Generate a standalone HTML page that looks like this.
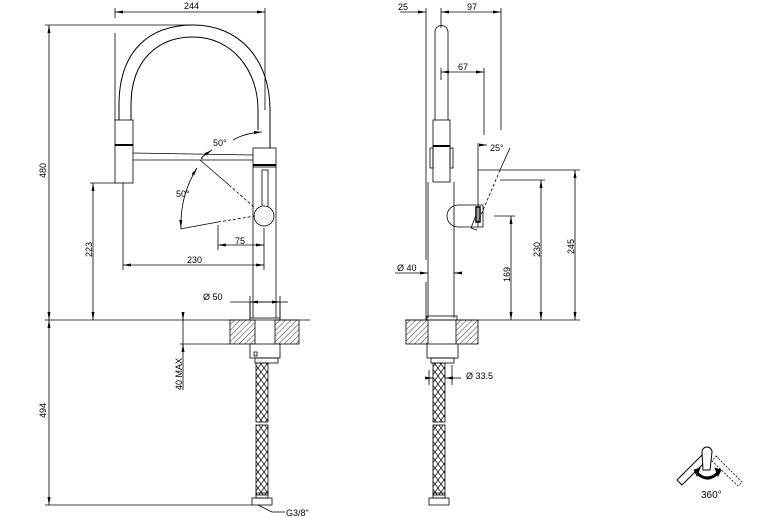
<!DOCTYPE html>
<html><head><meta charset="utf-8"><style>
html,body{margin:0;padding:0;background:#fff;}
svg{display:block;}
text{font-family:"Liberation Sans",sans-serif;font-size:9px;fill:#000;}
</style></head><body>
<svg width="764" height="518" viewBox="0 0 764 518" xmlns="http://www.w3.org/2000/svg">
<defs>
<pattern id="h" width="4" height="4" patternUnits="userSpaceOnUse" patternTransform="rotate(45)"><line x1="0" y1="0" x2="0" y2="4" stroke="#000" stroke-width="0.8"/></pattern>
<pattern id="x" width="6" height="8" patternUnits="userSpaceOnUse"><path d="M0 0L6 8M6 0L0 8" stroke="#000" stroke-width="0.7"/></pattern>
<marker id="a" markerWidth="8" markerHeight="6" refX="8" refY="3" orient="auto-start-reverse" markerUnits="userSpaceOnUse"><path d="M0 1.5L8 3L0 4.5z" fill="#000"/></marker>
</defs>
<g fill="none" stroke="#000" stroke-width="0.8">
<!-- LEFT VIEW dims -->
<line x1="115" y1="12" x2="265" y2="12" marker-start="url(#a)" marker-end="url(#a)"/>
<line x1="115" y1="8" x2="115" y2="18"/><line x1="115" y1="33" x2="115" y2="120"/>
<line x1="265" y1="8" x2="265" y2="110"/>
<line x1="45" y1="25" x2="195" y2="25"/>
<line x1="49" y1="25" x2="49" y2="320" marker-start="url(#a)" marker-end="url(#a)"/>
<line x1="49" y1="320" x2="49" y2="505" marker-start="url(#a)" marker-end="url(#a)"/>
<line x1="45" y1="505" x2="252" y2="505"/>
<line x1="45" y1="320" x2="232" y2="320"/>
<line x1="90" y1="183" x2="116" y2="183"/>
<line x1="93" y1="183" x2="93" y2="320" marker-start="url(#a)" marker-end="url(#a)"/>
<line x1="123" y1="183" x2="123" y2="270"/>
<line x1="123" y1="265" x2="264" y2="265" marker-start="url(#a)" marker-end="url(#a)"/>
<line x1="218" y1="225" x2="218" y2="250"/>
<line x1="218" y1="245" x2="264" y2="245" marker-start="url(#a)" marker-end="url(#a)"/>
<line x1="264" y1="228" x2="264" y2="270"/>
<line x1="230" y1="302" x2="250" y2="302"/><line x1="250" y1="302" x2="280" y2="302" marker-start="url(#a)" marker-end="url(#a)"/><line x1="280" y1="302" x2="288" y2="302"/>
<line x1="250" y1="296" x2="250" y2="320"/><line x1="280" y1="296" x2="280" y2="320"/>
<line x1="183" y1="315" x2="183" y2="390"/>
<line x1="183" y1="315" x2="183" y2="320" marker-end="url(#a)"/>
<line x1="183" y1="352" x2="183" y2="344" marker-end="url(#a)"/>
<line x1="180" y1="344" x2="230" y2="344"/>
<!-- arc spout -->
<path d="M119 120 L119 105 C119 50 150 25 193 25 C240 25 270 60 270 110 L270 148" stroke-width="1"/>
<path d="M131 120 L131 105 C131 60 158 37 193 37 C232 37 258 70 258 110 L258 130" stroke-width="1"/>
<rect x="115" y="120" width="18" height="63" fill="#fff"/>
<line x1="115" y1="145" x2="133" y2="145" stroke-width="2"/>
<line x1="133" y1="153" x2="253" y2="155"/><line x1="133" y1="160" x2="253" y2="160"/>
<rect x="253" y="148" width="23" height="19" fill="#fff"/>
<line x1="253" y1="165" x2="276" y2="165" stroke-width="2"/>
<line x1="253" y1="167" x2="253" y2="318"/><line x1="276" y1="167" x2="276" y2="318"/>
<rect x="250" y="302" width="30" height="16"/>
<rect x="262" y="170" width="6" height="44"/>
<circle cx="264" cy="216" r="10" fill="#fff"/>
<line x1="200" y1="160" x2="229" y2="185"/><line x1="229" y1="185" x2="255" y2="208" stroke-dasharray="3,2"/>
<line x1="180" y1="229" x2="218" y2="222"/><line x1="218" y1="222" x2="255" y2="216" stroke-dasharray="3,2"/>
<path d="M233 140 Q245 133 262 132" marker-end="url(#a)"/>
<path d="M212 150 Q197 160 203 158" marker-start="url(#a)"/>
<path d="M197 168 Q180 195 181 228" marker-end="url(#a)" marker-start="url(#a)"/>
<!-- counter left -->
<rect x="230" y="320" width="25" height="24" fill="url(#h)"/>
<rect x="275" y="320" width="24" height="24" fill="url(#h)"/>
<line x1="230" y1="320" x2="310" y2="320"/>
<rect x="250" y="344" width="30" height="14" fill="#fff"/>
<rect x="254" y="352" width="3" height="4"/>
<rect x="255" y="358" width="23" height="5"/>
<rect x="256" y="363" width="12" height="59" fill="url(#x)"/>
<rect x="256" y="425" width="12" height="70" fill="url(#x)"/>
<rect x="256" y="493" width="12" height="5"/>
<rect x="252" y="498" width="20" height="7"/>
<path d="M258 505 L272 512 L285 512"/>
<!-- RIGHT VIEW -->
<line x1="400" y1="12" x2="426" y2="12" marker-end="url(#a)"/>
<line x1="441" y1="12" x2="501" y2="12" marker-start="url(#a)" marker-end="url(#a)"/>
<line x1="426" y1="8" x2="426" y2="260"/><line x1="426" y1="282" x2="426" y2="320"/>
<line x1="441" y1="8" x2="441" y2="28"/>
<line x1="501" y1="8" x2="501" y2="130"/>
<line x1="441" y1="72" x2="484" y2="72" marker-start="url(#a)" marker-end="url(#a)"/>
<line x1="441" y1="68" x2="441" y2="80"/><line x1="484" y1="68" x2="484" y2="135"/>
<path d="M435 120 L435 32 A6.5 6.5 0 0 1 448 32 L448 120"/>
<rect x="433" y="120" width="17" height="62" fill="#fff"/>
<line x1="433" y1="146" x2="450" y2="146" stroke-width="2"/>
<rect x="430" y="148" width="3" height="20"/><rect x="450" y="148" width="3" height="20"/>
<line x1="428" y1="182" x2="428" y2="318"/><line x1="454" y1="182" x2="454" y2="318"/>
<rect x="427" y="316" width="30" height="4"/>
<path d="M458 205 L483 205 L483 227 L458 227 A11 11 0 0 1 458 205"/>
<line x1="478" y1="143" x2="478" y2="227"/>
<rect x="476" y="207" width="4" height="15" stroke-width="1.5"/>
<line x1="480" y1="145" x2="487" y2="145" marker-end="url(#a)" />
<line x1="510" y1="148" x2="500" y2="170"/><line x1="500" y1="170" x2="478" y2="222" stroke-dasharray="3,2"/>
<line x1="471" y1="228" x2="476" y2="215"/><line x1="471" y1="228" x2="477" y2="230"/>
<line x1="478" y1="170" x2="580" y2="170"/>
<line x1="500" y1="180" x2="545" y2="180"/>
<line x1="494" y1="216" x2="515" y2="216"/>
<line x1="575" y1="170" x2="575" y2="320" marker-start="url(#a)" marker-end="url(#a)"/>
<line x1="541" y1="180" x2="541" y2="320" marker-start="url(#a)" marker-end="url(#a)"/>
<line x1="511" y1="216" x2="511" y2="320" marker-start="url(#a)" marker-end="url(#a)"/>
<line x1="395" y1="273" x2="428" y2="273" marker-end="url(#a)"/>
<line x1="454" y1="273" x2="462" y2="273"/><line x1="462" y1="273" x2="454" y2="273" marker-end="url(#a)"/>
<line x1="405" y1="320" x2="580" y2="320"/>
<rect x="406" y="320" width="22" height="24" fill="url(#h)"/>
<rect x="456" y="320" width="22" height="24" fill="url(#h)"/>
<rect x="427" y="344" width="31" height="14" fill="#fff"/>
<rect x="431" y="358" width="23" height="5"/>
<rect x="433" y="363" width="12" height="59" fill="url(#x)"/>
<rect x="433" y="425" width="12" height="70" fill="url(#x)"/>
<rect x="433" y="493" width="12" height="5"/>
<rect x="429" y="498" width="20" height="7"/>
<line x1="425" y1="378" x2="433" y2="378" marker-end="url(#a)"/>
<line x1="461" y1="378" x2="445" y2="378" marker-end="url(#a)"/>
<line x1="429" y1="370" x2="429" y2="385"/><line x1="452" y1="365" x2="452" y2="385"/>
<!-- icon -->
<path d="M677 480 L702 455 L707 460 L682 485 Z" stroke-width="1"/>
<path d="M716 456 L742 482 L738 486 L712 461 Z" stroke-dasharray="2,1.5"/>
<path d="M703 470 L702 452 A5 5 0 0 1 712 452 L710 470 Z" fill="#fff" stroke-width="1"/>
<path d="M697 473 Q707 483 718 473" stroke-width="3"/>
<path d="M694 470 L700 468 L697 476Z M721 470 L715 468 L718 476Z" fill="#000"/>
</g>
<g>
<text x="184" y="9">244</text>
<text x="213" y="146">50°</text>
<text x="176" y="197">50°</text>
<text x="235" y="244">75</text>
<text x="187" y="263">230</text>
<text x="203" y="300">Ø 50</text>
<text transform="translate(46,178) rotate(-90)">480</text>
<text transform="translate(92,257) rotate(-90)">223</text>
<text transform="translate(46,418) rotate(-90)">494</text>
<text transform="translate(182,390) rotate(-90)">40 MAX</text>
<text x="286" y="516">G3/8"</text>
<text x="398" y="10">25</text>
<text x="467" y="10">97</text>
<text x="458" y="70">67</text>
<text x="490" y="151">25°</text>
<text x="397" y="271">Ø 40</text>
<text transform="translate(510,282) rotate(-90)">169</text>
<text transform="translate(540,257) rotate(-90)">230</text>
<text transform="translate(574,254) rotate(-90)">245</text>
<text x="466" y="379">Ø 33.5</text>
<text x="701" y="498" style="font-size:10px">360°</text>
</g>
</svg>
</body></html>
